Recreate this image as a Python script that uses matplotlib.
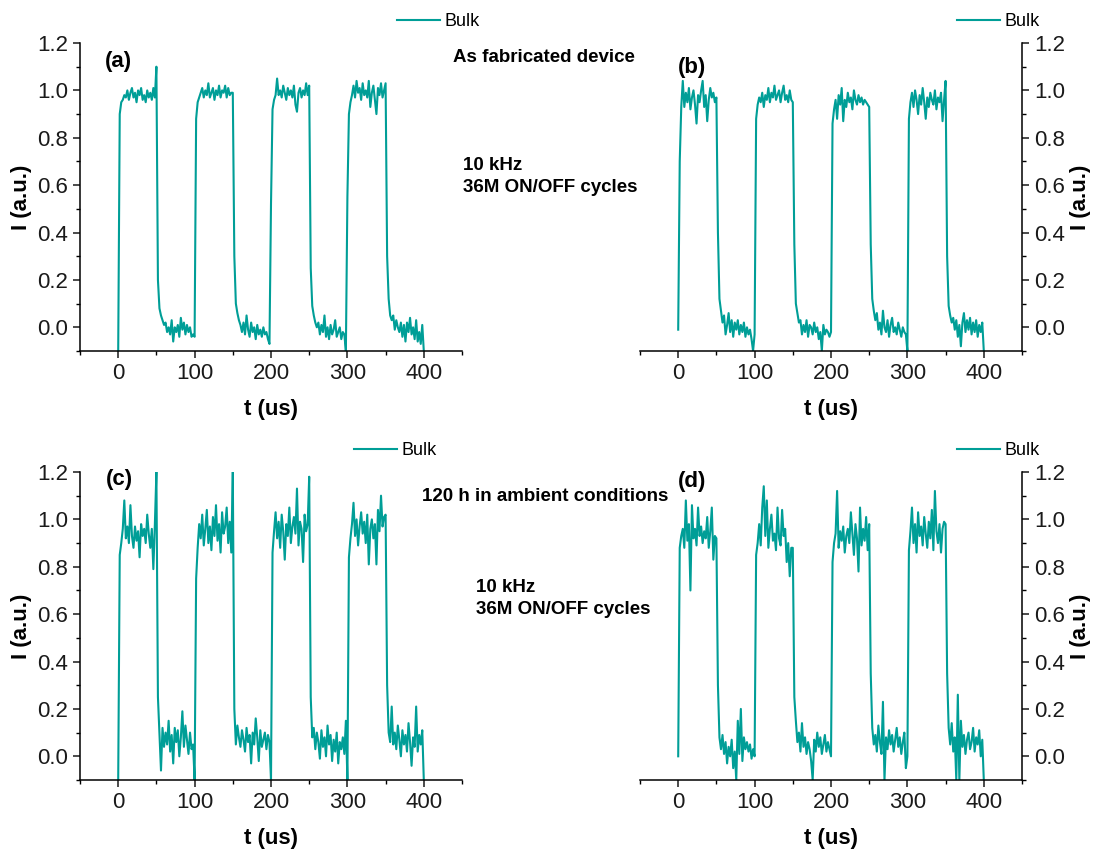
import numpy as np
import matplotlib
matplotlib.use("Agg")
import matplotlib.pyplot as plt
from matplotlib.ticker import MultipleLocator

plt.rcParams['font.family'] = ['Liberation Sans', 'DejaVu Sans']

# ── data: photocurrent traces, sampled every 2 us (0 ... 400 us) ──
t_us = np.arange(0, 401, 2)

# (a) as fabricated, device 1  -- one line per half period (25 samples)
i_a = [
    -0.10, 0.90, 0.95, 0.96, 0.98, 0.97, 1.00, 0.96, 0.99, 1.01, 0.97, 0.99, 0.95, 1.00, 0.98, 1.01, 0.96, 0.98, 0.95, 1.00, 0.97, 0.99, 0.96, 1.01, 0.97,
    1.10, 0.20, 0.08, 0.05, 0.03, 0.01, 0.02, -0.02, 0.00, -0.03, 0.03, -0.06, 0.00, -0.02, 0.01, -0.04, 0.04, -0.01, 0.02, -0.03, 0.01, -0.02, 0.00, -0.04, -0.03,
    -0.04, 0.88, 0.95, 0.97, 0.99, 1.01, 0.97, 1.00, 0.98, 1.03, 0.97, 0.99, 1.01, 0.96, 1.00, 0.98, 1.02, 0.97, 1.00, 0.99, 1.02, 0.97, 1.01, 0.98, 0.99,
    0.99, 0.30, 0.10, 0.06, 0.03, 0.01, -0.02, 0.02, -0.03, 0.05, -0.01, -0.04, 0.02, -0.02, 0.00, -0.05, 0.01, -0.03, -0.01, -0.04, 0.00, -0.03, -0.02, -0.05, -0.07,
    0.52, 0.92, 0.96, 0.98, 1.05, 0.98, 1.00, 0.97, 1.02, 0.99, 0.96, 1.01, 0.98, 1.00, 0.97, 1.02, 0.94, 0.91, 0.99, 1.01, 0.97, 1.00, 0.98, 1.03, 0.98,
    1.02, 0.25, 0.09, 0.05, 0.02, 0.00, 0.02, -0.03, 0.01, -0.02, 0.05, -0.04, 0.00, -0.05, 0.01, -0.03, -0.01, 0.03, -0.04, -0.02, 0.00, -0.05, -0.02, -0.03, -0.10,
    0.55, 0.90, 0.95, 0.98, 1.02, 0.97, 1.04, 0.99, 1.01, 0.96, 1.03, 0.98, 1.00, 0.97, 1.04, 0.93, 0.99, 1.02, 0.96, 0.90, 1.01, 0.98, 1.03, 0.97, 1.00,
    1.03, 0.30, 0.12, 0.05, 0.03, 0.05, -0.01, 0.03, 0.00, -0.02, 0.02, -0.04, 0.01, -0.06, 0.02, -0.02, 0.04, -0.03, 0.00, -0.05, 0.03, -0.06, -0.02, -0.07, 0.01,
    -0.10,
]

# (b) as fabricated, device 2
i_b = [
    -0.01, 0.70, 0.93, 1.04, 0.93, 0.99, 0.95, 1.01, 0.92, 0.97, 1.00, 0.94, 0.86, 0.98, 0.95, 1.00, 1.04, 0.93, 0.98, 0.87, 0.96, 1.01, 0.97, 0.99, 0.95,
    0.97, 0.40, 0.12, 0.07, 0.02, 0.05, -0.03, 0.01, 0.06, -0.02, 0.03, -0.04, 0.02, -0.01, 0.03, -0.03, 0.01, -0.02, 0.02, -0.04, 0.00, -0.03, -0.01, -0.05, -0.10,
    -0.03, 0.88, 0.94, 0.97, 0.95, 0.99, 0.93, 0.98, 0.96, 1.01, 0.95, 0.99, 0.97, 1.02, 0.96, 0.98, 1.00, 0.95, 0.99, 1.02, 0.96, 0.98, 0.95, 1.00, 0.96,
    0.95, 0.35, 0.10, 0.06, 0.02, 0.03, -0.03, 0.01, -0.02, 0.03, -0.04, 0.01, 0.00, -0.03, 0.02, -0.02, 0.00, -0.05, -0.02, -0.10, 0.01, -0.03, -0.01, -0.02, -0.04,
    -0.02, 0.86, 0.92, 0.96, 0.88, 0.98, 0.94, 1.01, 0.87, 0.96, 0.93, 0.99, 0.95, 0.97, 0.92, 1.00, 0.96, 0.94, 0.98, 0.95, 0.97, 0.94, 0.96, 0.95, 0.94,
    0.93, 0.35, 0.12, 0.07, 0.03, 0.06, -0.01, 0.02, -0.03, 0.07, 0.00, -0.02, 0.03, -0.04, 0.01, 0.04, -0.02, 0.00, -0.03, 0.02, -0.01, -0.04, 0.00, -0.02, -0.03,
    -0.10, 0.88, 0.95, 0.99, 0.93, 1.00, 0.96, 0.90, 0.98, 0.94, 1.01, 0.95, 0.88, 0.97, 0.93, 0.99, 0.96, 0.94, 1.00, 0.92, 0.97, 0.95, 0.99, 0.87, 0.96,
    1.04, 0.30, 0.09, 0.05, 0.02, 0.04, -0.01, 0.03, -0.04, 0.01, -0.08, 0.02, 0.06, -0.02, 0.03, -0.01, 0.04, -0.03, 0.02, -0.02, 0.03, -0.04, 0.01, -0.02, 0.02,
    -0.10,
]

# (c) after 120 h in ambient conditions, device 1
i_c = [
    -0.10, 0.85, 0.90, 0.96, 1.08, 0.92, 0.97, 0.90, 1.06, 0.93, 0.88, 0.97, 0.91, 0.95, 0.84, 0.98, 0.93, 0.96, 0.90, 1.02, 0.94, 0.88, 0.96, 0.79, 0.98,
    1.20, 0.25, 0.10, -0.06, 0.12, 0.04, 0.10, 0.05, 0.15, 0.02, 0.09, -0.03, 0.12, 0.06, 0.11, 0.00, 0.08, 0.19, 0.04, 0.13, 0.07, 0.01, 0.10, 0.03, 0.05,
    -0.10, 0.75, 0.88, 0.98, 0.92, 1.02, 0.89, 0.96, 1.04, 0.90, 0.97, 0.87, 1.01, 0.93, 1.06, 0.91, 0.98, 0.86, 1.03, 0.94, 0.97, 1.05, 0.90, 0.99, 0.86,
    1.20, 0.20, 0.05, 0.13, 0.08, 0.04, 0.11, 0.07, 0.02, 0.12, 0.06, 0.09, -0.03, 0.10, 0.05, 0.16, 0.08, -0.02, 0.11, 0.04, 0.07, 0.10, 0.03, 0.09, 0.06,
    -0.10, 0.86, 0.95, 1.03, 0.92, 0.99, 0.88, 1.02, 0.95, 0.83, 0.98, 0.93, 1.05, 0.90, 0.97, 1.01, 0.94, 1.13, 0.89, 0.99, 0.96, 0.82, 1.02, 0.95, 0.98,
    1.18, 0.25, 0.08, 0.12, 0.03, 0.10, 0.06, -0.01, 0.11, 0.04, 0.08, 0.00, 0.13, 0.05, 0.09, -0.02, 0.07, 0.02, 0.10, -0.03, 0.06, 0.03, 0.08, 0.01, 0.15,
    -0.10, 0.84, 0.92, 0.98, 1.07, 0.93, 1.00, 0.89, 0.97, 1.03, 0.94, 0.99, 0.90, 1.02, 0.81, 0.96, 1.00, 0.92, 0.98, 0.81, 1.04, 0.95, 1.10, 0.97, 1.01,
    1.02, 0.30, 0.10, 0.06, 0.21, 0.05, 0.10, 0.03, 0.13, 0.07, 0.00, 0.11, 0.05, 0.09, 0.02, 0.14, 0.06, -0.04, 0.08, 0.04, 0.21, 0.02, 0.09, 0.05, 0.11,
    -0.10,
]

# (d) after 120 h in ambient conditions, device 2
i_d = [
    0.00, 0.88, 0.93, 0.96, 0.88, 1.08, 0.91, 0.98, 0.70, 1.06, 0.92, 0.96, 0.89, 1.05, 0.93, 0.97, 0.90, 0.95, 0.92, 1.01, 0.88, 0.95, 1.05, 0.83, 0.93,
    0.92, 0.30, 0.08, 0.03, 0.09, 0.01, 0.06, -0.03, 0.04, 0.00, 0.07, -0.05, 0.02, -0.10, 0.15, 0.01, 0.20, -0.02, 0.08, 0.03, 0.06, 0.02, 0.05, -0.01, 0.03,
    0.00, 0.85, 0.90, 0.98, 0.89, 1.05, 1.14, 0.93, 1.08, 0.88, 0.96, 1.02, 0.91, 0.94, 0.87, 1.05, 0.92, 0.89, 1.04, 0.93, 0.96, 0.82, 0.90, 0.76, 0.88,
    0.88, 0.25, 0.15, 0.06, 0.10, 0.02, 0.14, 0.04, 0.08, 0.01, 0.06, 0.03, -0.02, -0.10, 0.07, 0.02, 0.10, 0.04, 0.08, 0.01, 0.05, 0.09, 0.02, 0.06, 0.03,
    0.00, 0.82, 0.90, 0.94, 1.12, 0.88, 0.95, 0.91, 0.97, 0.86, 0.93, 0.96, 0.90, 1.03, 0.94, 0.85, 0.98, 0.92, 0.78, 1.05, 0.89, 0.96, 0.91, 1.01, 0.87,
    0.98, 0.35, 0.12, 0.05, 0.09, 0.02, 0.13, 0.06, 0.01, 0.23, -0.10, 0.08, 0.03, 0.11, 0.05, 0.09, 0.02, 0.07, 0.12, 0.04, 0.08, 0.01, 0.06, 0.10, -0.05,
    0.00, 0.87, 0.95, 1.05, 0.90, 0.98, 0.86, 1.03, 0.93, 0.97, 0.89, 1.01, 0.94, 0.88, 0.99, 0.92, 1.04, 0.87, 1.12, 0.95, 0.90, 0.98, 0.86, 0.96, 0.99,
    0.98, 0.35, 0.12, 0.05, 0.14, 0.02, 0.08, -0.10, 0.26, -0.10, 0.15, 0.04, 0.09, 0.01, 0.07, 0.10, 0.03, 0.06, 0.12, 0.02, 0.08, 0.05, 0.11, 0.00, 0.07,
    -0.10,
]

panel_labels = ["(a)", "(b)", "(c)", "(d)"]
series_name = "Bulk"

TEAL = '#009E97'
W, H = 1095, 851

fig = plt.figure(figsize=(W / 100, H / 100), dpi=100)

def px_rect(x0, y_top, x1, y_bot):
    return [x0 / W, 1 - y_bot / H, (x1 - x0) / W, (y_bot - y_top) / H]

rects = [px_rect(80, 43, 462, 351), px_rect(640, 43, 1022, 351),
         px_rect(80, 472, 462, 780), px_rect(640, 472, 1022, 780)]
traces = [i_a, i_b, i_c, i_d]
label_pos = [(105, 62), (678, 67), (106, 479), (678, 482)]

for k, (rect, y) in enumerate(zip(rects, traces)):
    ax = fig.add_axes(rect)
    right = k % 2 == 1
    ax.plot(t_us, y, color=TEAL, lw=1.5, label=series_name)
    ax.set_xlim(-50, 450)
    ax.set_ylim(-0.1, 1.2)
    ax.xaxis.set_major_locator(MultipleLocator(100))
    ax.xaxis.set_minor_locator(MultipleLocator(50))
    ax.yaxis.set_minor_locator(MultipleLocator(0.1))
    ax.set_yticks(np.arange(0, 1.21, 0.2))
    ax.set_yticklabels([f"{v:.1f}" for v in np.arange(0, 1.21, 0.2)])
    ax.spines['top'].set_visible(False)
    ax.spines['left' if right else 'right'].set_visible(False)
    for s in ax.spines.values():
        s.set_linewidth(1.1)
    ax.tick_params(which='major', direction='out', length=5, width=1.1,
                   labelsize=16, colors='#1a1a1a')
    ax.tick_params(which='minor', direction='out', length=3, width=1.0)
    if right:
        ax.yaxis.tick_right()
        ax.yaxis.set_label_position('right')
    ax.set_xlabel("t (us)", fontsize=16, fontweight='bold', labelpad=11)
    ax.set_ylabel("I (a.u.)", fontsize=16, fontweight='bold', labelpad=4)
    legx = 0.829 if (k != 2) else 0.717
    ax.legend(loc='center left', bbox_to_anchor=(legx, 1.069), frameon=False,
              borderpad=0, borderaxespad=0, handlelength=2.4,
              handletextpad=0.25, fontsize=13)
    lx, ly = label_pos[k]
    fig.text(lx / W, 1 - ly / H, panel_labels[k], fontsize=16,
             fontweight='bold', va='center', ha='left')

# annotations
ann = dict(fontsize=13.5, fontweight='bold', va='center', ha='left')
fig.text(453 / W, 1 - 58 / H, "As fabricated device", **ann)
fig.text(463 / W, 1 - 165 / H, "10 kHz", **ann)
fig.text(463 / W, 1 - 188 / H, "36M ON/OFF cycles", **ann)
fig.text(422 / W, 1 - 496 / H, "120 h in ambient conditions", **ann)
fig.text(476 / W, 1 - 587 / H, "10 kHz", **ann)
fig.text(476 / W, 1 - 610 / H, "36M ON/OFF cycles", **ann)

fig.savefig("out.png", dpi=100, facecolor='white')
